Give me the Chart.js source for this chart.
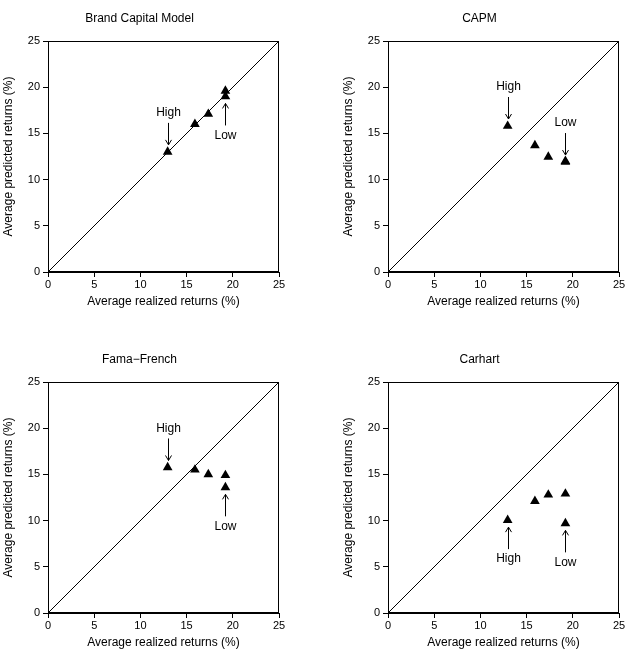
<!DOCTYPE html>
<html>
<head>
<meta charset="utf-8">
<script src="https://cdn.jsdelivr.net/npm/chart.js@4.4.1/dist/chart.umd.min.js"></script>
<style>
  body { margin: 0; background: #fff; }
  .panel { position: absolute; }
</style>
</head>
<body>
<div class="panel" style="left:0;top:0"><canvas id="c1" width="292" height="341"></canvas></div>
<div class="panel" style="left:340px;top:0"><canvas id="c2" width="292" height="341"></canvas></div>
<div class="panel" style="left:0;top:341px"><canvas id="c3" width="292" height="328"></canvas></div>
<div class="panel" style="left:340px;top:341px"><canvas id="c4" width="292" height="328"></canvas></div>
<script>
// portfolios, ordered High ... Low
const realized = [12.95, 15.9, 17.35, 19.2, 19.2];

const brandCapital = [13.0, 16.0, 17.1, 19.6, 19.0];
const capm = [15.8, 13.7, 12.45, 12.0, 11.9];
const famaFrench = [15.75, 15.5, 15.0, 14.9, 13.6];
const carhart = [10.05, 12.1, 12.8, 12.9, 9.7];

const titles = ['Brand Capital Model', 'CAPM', 'Fama\u2212French', 'Carhart'];
const diagonal = [0, 25];
const axisTicks = [0, 5, 10, 15, 20, 25];

// which point each label marks, and from which side the arrow comes
const notes = [
  [{ text: 'High', idx: 0, side: 'above' }, { text: 'Low', idx: 4, side: 'below' }],
  [{ text: 'High', idx: 0, side: 'above' }, { text: 'Low', idx: 4, side: 'above' }],
  [{ text: 'High', idx: 0, side: 'above' }, { text: 'Low', idx: 4, side: 'below' }],
  [{ text: 'High', idx: 0, side: 'below' }, { text: 'Low', idx: 4, side: 'below' }]
];

const FONT = "'Liberation Sans', Arial, Helvetica, sans-serif";

const framePlugin = {
  id: 'frame',
  afterDatasetsDraw(chart, args, opts) {
    const { ctx, chartArea: a, scales } = chart;
    ctx.save();
    ctx.strokeStyle = '#000';
    ctx.lineWidth = 1;
    ctx.strokeRect(a.left + 0.5, a.top + 0.5, a.right - a.left - 1, a.bottom - a.top - 1);

    // High / Low arrows
    const pts = chart.data.datasets[1].data;
    ctx.fillStyle = '#000';
    ctx.font = '12px ' + FONT;
    ctx.textAlign = 'center';
    ctx.textBaseline = 'middle';
    opts.notes.forEach(n => {
      const p = pts[n.idx];
      const px = Math.round(scales.x.getPixelForValue(p.x)) + 0.5;
      const py = scales.y.getPixelForValue(p.y);
      const dir = n.side === 'above' ? -1 : 1;
      const tip = py + dir * 7;
      const tail = py + dir * 29;
      ctx.beginPath();
      ctx.moveTo(px, tail);
      ctx.lineTo(px, tip);
      ctx.moveTo(px - 3, tip + dir * 5);
      ctx.lineTo(px, tip);
      ctx.lineTo(px + 3, tip + dir * 5);
      ctx.stroke();
      ctx.fillText(n.text, px, py + dir * 39);
    });
    ctx.restore();
  }
};

function makeChart(id, k, predicted, bottomPad) {
  const points = realized.map((x, i) => ({ x: x, y: predicted[i] }));
  const diag = diagonal.map(v => ({ x: v, y: v }));
  return new Chart(document.getElementById(id), {
    type: 'scatter',
    data: {
      datasets: [
        {
          type: 'line',
          data: diag,
          borderColor: '#000',
          borderWidth: 1,
          pointRadius: 0,
          fill: false
        },
        {
          data: points,
          pointStyle: 'triangle',
          pointRadius: 5.6,
          backgroundColor: '#000',
          borderColor: '#000',
          borderWidth: 0
        }
      ]
    },
    options: {
      responsive: false,
      animation: false,
      layout: { padding: { left: 0, right: 13, top: 0, bottom: bottomPad } },
      plugins: {
        legend: { display: false },
        tooltip: { enabled: false },
        title: {
          display: true,
          text: titles[k],
          color: '#000',
          font: { family: FONT, size: 12, weight: 'normal' },
          padding: { top: 11, bottom: 15.6 }
        },
        frame: { notes: notes[k] }
      },
      scales: {
        x: {
          type: 'linear',
          min: 0, max: 25,
          afterBuildTicks: s => { s.ticks = axisTicks.map(v => ({ value: v })); },
          afterFit: s => { s.height = 37; },
          grid: { drawOnChartArea: false, tickLength: 5, color: '#000' },
          border: { color: '#000' },
          ticks: { color: '#000', padding: 1, font: { family: FONT, size: 11 } },
          title: {
            display: true,
            text: 'Average realized returns (%)',
            color: '#000',
            padding: 0,
            font: { family: FONT, size: 12 }
          }
        },
        y: {
          type: 'linear',
          min: 0, max: 25,
          afterBuildTicks: s => { s.ticks = axisTicks.map(v => ({ value: v })); },
          afterFit: s => { s.width = 48; },
          grid: { drawOnChartArea: false, tickLength: 5, color: '#000' },
          border: { color: '#000' },
          ticks: { color: '#000', padding: 3, font: { family: FONT, size: 11 } },
          title: {
            display: true,
            text: 'Average predicted returns (%)',
            color: '#000',
            padding: { top: 1, bottom: 0 },
            font: { family: FONT, size: 12 }
          }
        }
      }
    },
    plugins: [framePlugin]
  });
}

makeChart('c1', 0, brandCapital, 32);
makeChart('c2', 1, capm, 32);
makeChart('c3', 2, famaFrench, 19);
makeChart('c4', 3, carhart, 19);
</script>
</body>
</html>
